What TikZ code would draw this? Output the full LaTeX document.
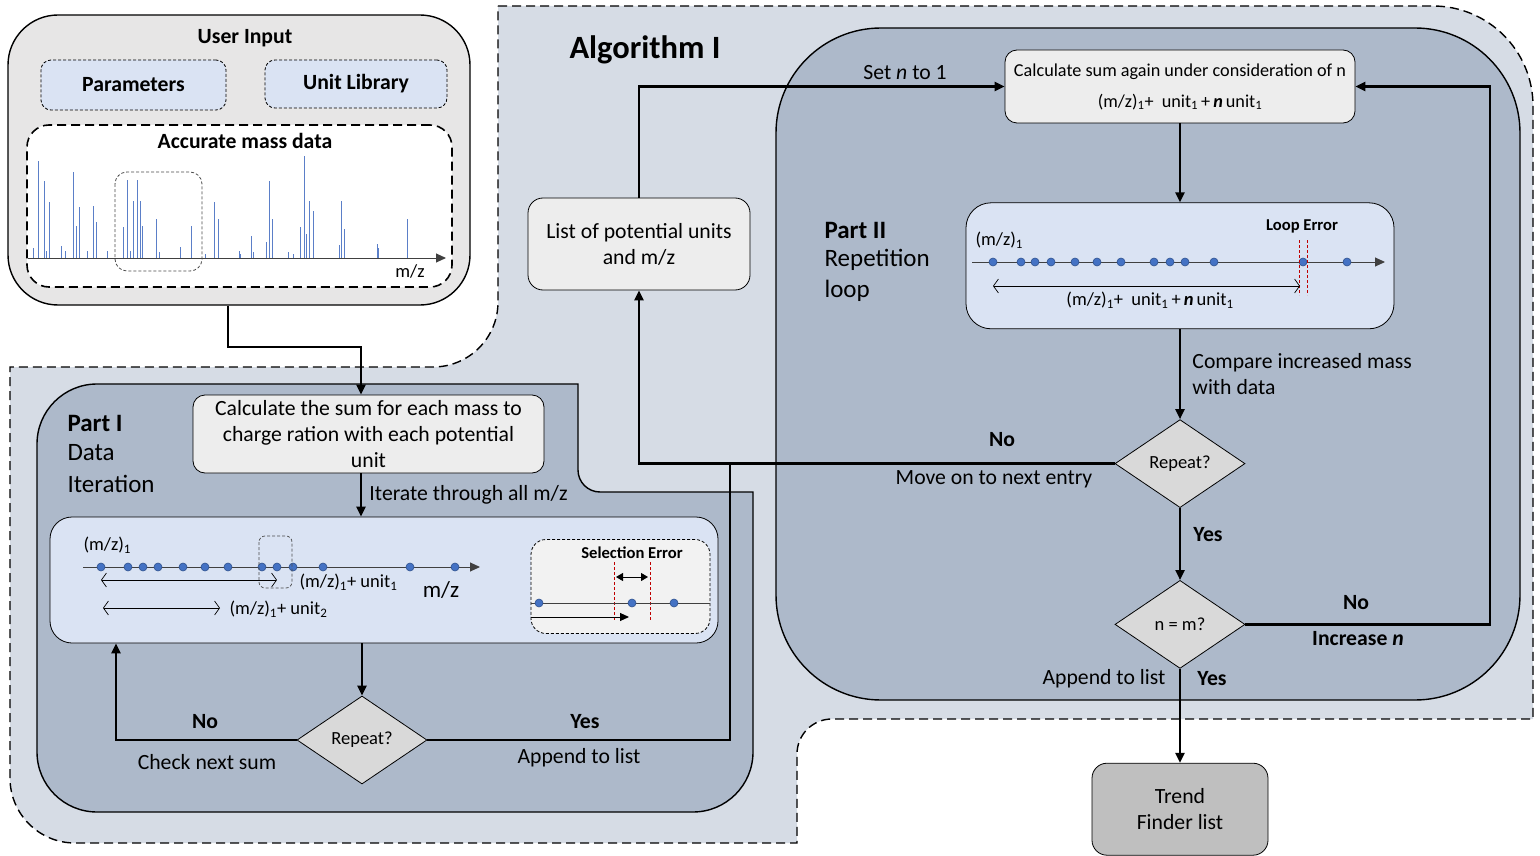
\documentclass[tikz,border=0pt]{standalone}
\usepackage{fontspec}
\setmainfont{Carlito}
\usepackage{xcolor}
\usetikzlibrary{arrows.meta,positioning,shapes.geometric}

\definecolor{regionfill}{HTML}{D6DCE5}
\definecolor{partfill}{HTML}{ADB9CA}
\definecolor{datafill}{HTML}{DAE3F3}
\definecolor{calcfill}{HTML}{EDEDED}
\definecolor{inputfill}{HTML}{E7E6E6}
\definecolor{decfill}{HTML}{D9D9D9}
\definecolor{trendfill}{HTML}{BFBFBF}
\definecolor{selfill}{HTML}{F2F2F2}
\definecolor{dotfill}{HTML}{4472C4}
\definecolor{dotline}{HTML}{2F528F}
\definecolor{peakline}{HTML}{5B7FC8}
\definecolor{errred}{HTML}{C00000}

\begin{document}
\begin{tikzpicture}[
    x=1pt, y=-1pt,
    font=\fontsize{21.7}{26}\selectfont,
    region/.style={fill=regionfill, draw, dashed, dash pattern=on 9pt off 5pt, line width=1.4pt},
    part/.style={fill=partfill, draw, line width=1.4pt},
    calcbox/.style={draw, fill=calcfill, rounded corners=12pt, align=center, inner sep=0pt, line width=0.8pt},
    databox/.style={draw, fill=datafill, rounded corners=22pt, inner sep=0pt, line width=0.8pt},
    subbox/.style={draw, dashed, dash pattern=on 3pt off 2pt, fill=datafill, rounded corners=10pt, inner sep=0pt, line width=0.8pt},
    decision/.style={diamond, draw, fill=decfill, minimum width=130pt, minimum height=88pt, inner sep=0pt, line width=0.8pt, font=\fontsize{18.5}{22}\selectfont},
    arrow/.style={-{Triangle[length=10pt,width=9pt]}, line width=2.3pt},
    link/.style={line width=2.3pt},
    span/.style={{Straight Barb[length=5pt,width=14pt]}-{Straight Barb[length=5pt,width=14pt]}, line width=0.7pt},
    mzaxis/.style={-{Triangle[length=10pt,width=9pt]}, line width=1pt, black!75},
    mzdot/.style={fill=dotfill, draw=dotline, line width=0.6pt},
    errline/.style={draw=errred, dashed, dash pattern=on 3pt off 2pt, line width=0.8pt},
    heading/.style={font=\bfseries\fontsize{21.7}{26}\selectfont},
    partlabel/.style={anchor=west, font=\fontsize{25}{28}\selectfont},
    note/.style={font=\fontsize{18.5}{22}\selectfont},
    errtitle/.style={font=\bfseries\fontsize{16.6}{20}\selectfont}
]
\useasboundingbox (0,0) rectangle (1540,856);

% Algorithm I region
\draw[region] (498,6) -- (1433,6) arc[start angle=90, end angle=0, radius=100pt]
    -- (1533,719) -- (832,719) arc[start angle=90, end angle=180, radius=35pt]
    -- (797,843) -- (75,843) arc[start angle=270, end angle=180, radius=65pt]
    -- (10,367) -- (433,367) arc[start angle=270, end angle=360, radius=65pt]
    -- cycle;
\node[anchor=west, font=\bfseries\fontsize{32.5}{36}\selectfont] (algo) at (566,50) {Algorithm I};

% Part I and Part II backgrounds
\draw[part] (97,384) -- (578,384) -- (578,470) arc[start angle=180, end angle=270, radius=22pt]
    -- (753,492) -- (753,752) arc[start angle=0, end angle=-90, radius=60pt]
    -- (97,812) arc[start angle=270, end angle=180, radius=60pt]
    -- (37,444) arc[start angle=180, end angle=90, radius=60pt] -- cycle;
\draw[part, rounded corners=105pt] (776,28) rectangle (1520,700);

% User input
\node[draw, fill=inputfill, rounded corners=50pt, line width=1.4pt, minimum width=462pt, minimum height=290pt] (userin) at (239,160) {};
\node[heading] (uititle) at (245,38) {User Input};
\node[subbox, heading, minimum width=185pt, minimum height=50pt] (params) at (133.5,85) {Parameters};
\node[subbox, heading, minimum width=182pt, minimum height=48pt] (unitlib) at (356,84) {Unit Library};
\node[draw, fill=white, rounded corners=22pt, dashed, dash pattern=on 9pt off 5pt, line width=1.6pt, minimum width=425pt, minimum height=162pt] (massdata) at (239.5,206) {};
\node[heading] (masstitle) at (245,141) {Accurate mass data};

% Spectrum
\foreach \x/\h in {38/161, 44/181, 49/202, 33/248, 46/251, 61/246, 65/251, 73/172, 76/226, 79/207,
    87/251, 93/206, 96/222, 107/251, 123/227, 127/180, 130/251, 133/201, 137/180, 140/201,
    142/226, 156/219, 159/252, 180/247, 191/226, 205/254, 214/202, 218/219, 239/251, 240/254,
    251/236, 253/252, 266/242, 269/181, 272/219, 288/252, 293/254, 300/227, 304/156, 306/234,
    309/201, 313/211, 339/245, 341/201, 344/229, 377/244, 378/248, 407/219}
    \draw[peakline, line width=1pt] (\x,258) -- (\x,\h);
\draw[mzaxis] (28,258) -- (446,258);
\node[note] (mzspec) at (410,271) {m/z};
\draw[black!70, dashed, dash pattern=on 3pt off 2pt, rounded corners=12pt, line width=0.8pt] (115,172) rectangle (202,271);

% Part I: data iteration
\node[partlabel, font=\bfseries\fontsize{25}{28}\selectfont] (parti) at (64,423) {Part I};
\node[partlabel] (partidata) at (64,453) {Data};
\node[partlabel] (partiiter) at (64,484) {Iteration};
\node[calcbox, minimum width=351pt, minimum height=78pt] (calci) at (368.5,434) {Calculate the sum for each mass to\\charge ration with each potential\\unit};
\node[databox, minimum width=668pt, minimum height=126pt] (datai) at (384,580) {};
\node[decision] (repi) at (362,740) {Repeat?};

\node[note, anchor=west] (mzi) at (80,545) {(m/z)\textsubscript{1}};
\draw[mzaxis] (83,567) -- (480,567);
\foreach \x in {101,128,143,158,183,205,228,262,277,293,323,410,455}
    \filldraw[mzdot] (\x,567) circle[radius=4pt];
\draw[black!70, dashed, dash pattern=on 3pt off 2pt, rounded corners=6pt, line width=0.7pt] (259,536) rectangle (292,588);
\draw[span] (101,580) -- (277,580);
\node[note, anchor=west] (unitone) at (296,582) {(m/z)\textsubscript{1}+ unit\textsubscript{1}};
\node[font=\fontsize{23}{26}\selectfont] (mzlabel) at (441,590) {m/z};
\draw[span] (103,608) -- (220,608);
\node[note, anchor=west] (unittwo) at (226,609) {(m/z)\textsubscript{1}+ unit\textsubscript{2}};

% Selection error inset
\node[subbox, fill=selfill, rounded corners=15pt, minimum width=179pt, minimum height=94pt] (selerr) at (620.5,586.5) {};
\node[errtitle] (seltitle) at (632,553) {Selection Error};
\draw[errline] (614,562) -- (614,620);
\draw[errline] (650,562) -- (650,620);
\draw[{Triangle[length=7pt,width=8pt]}-{Triangle[length=7pt,width=8pt]}, line width=1pt] (616,577) -- (648,577);
\draw[black!75, line width=1pt] (531,603) -- (710,603);
\foreach \x in {539,632,674}
    \filldraw[mzdot] (\x,603) circle[radius=4pt];
\draw[-{Triangle[length=9pt,width=8pt]}, line width=1pt] (531,617) -- (629,617);

% List of units
\node[calcbox, rounded corners=15pt, minimum width=222pt, minimum height=92pt] (list) at (639,244) {List of potential units\\and m/z};

% Part II: repetition loop
\node[partlabel, font=\bfseries\fontsize{25}{28}\selectfont] (partii) at (821,230) {Part II};
\node[partlabel] (partiirep) at (821,260) {Repetition};
\node[partlabel] (partiiloop) at (821,291) {loop};
\node[calcbox, minimum width=350pt, minimum height=73pt, font=\fontsize{18.2}{31}\selectfont] (calcii) at (1180,86.5)
    {Calculate sum again under consideration of n\\(m/z)\textsubscript{1}+\ \ unit\textsubscript{1}\,+\,\textbf{\textit{n}}\,unit\textsubscript{1}};
\node[databox, rounded corners=25pt, minimum width=428pt, minimum height=126pt, below=79pt of calcii] (dataii) {};
\node[decision, below=90pt of dataii] (repii) {Repeat?};
\node[decision, below=72pt of repii] (nm) {n = m?};
\node[calcbox, fill=trendfill, rounded corners=15pt, minimum width=176pt, minimum height=92pt, below=94pt of nm] (trend) {Trend\\Finder list};

\node[note, anchor=west] (mzii) at (972,240) {(m/z)\textsubscript{1}};
\node[errtitle] (looptitle) at (1302,226) {Loop Error};
\draw[mzaxis] (972,262) -- (1385,262);
\foreach \x in {993,1021,1035,1051,1075,1097,1121,1154,1170,1185,1214,1303,1347}
    \filldraw[mzdot] (\x,262) circle[radius=4pt];
\draw[errline] (1299,240) -- (1299,295);
\draw[errline] (1307,240) -- (1307,295);
\draw[span] (993,286) -- (1300,286);
\node[note] (loopsum) at (1150,300) {(m/z)\textsubscript{1}+\ \ unit\textsubscript{1}\,+\,\textbf{\textit{n}}\,unit\textsubscript{1}};

% Connectors
\coordinate (ui) at (228,0);
\coordinate (spine) at (361,0);
\coordinate (noi) at (116,0);
\coordinate (yesi) at (730,462);
\coordinate (back) at (1490,0);

\draw[arrow] (userin.south -| ui) -- ++(0,41) -| (calci.north -| spine);
\draw[arrow] (calci.south -| spine) -- node[right=4pt] (iterlbl) {Iterate through all m/z} (datai.north -| spine);
\draw[arrow] (datai.south -| repi) -- (repi.north);
\draw[arrow] (repi.west) -| (datai.south -| noi);
\draw[link] (repi.east) -| (yesi);
\draw[arrow] (repii.west) -| (list.south);
\draw[arrow] (list.north) |- (calcii.west);
\draw[arrow] (calcii.south) -- (dataii.north);
\draw[arrow] (dataii.south) -- node[right=8pt, align=left] (cmplbl) {Compare increased mass\\with data} (repii.north);
\draw[arrow] (repii.south) -- (nm.north);
\draw[arrow] (nm.east) -- (nm.east -| back) -- (calcii.east -| back) -- (calcii.east);
\draw[arrow] (nm.south) -- (trend.north);

% Connector labels
\node[heading] (noione) at (205,722) {No};
\node (checklbl) at (207,762) {Check next sum};
\node[heading] (yesione) at (585,722) {Yes};
\node (appendi) at (579,758) {Append to list};
\node (setn) at (905,73) {Set \textit{n} to 1};
\node[heading] (noiitop) at (1002,440) {No};
\node (movelbl) at (994,479) {Move on to next entry};
\node[heading] (yesiitop) at (1208,535) {Yes};
\node[heading] (noiinm) at (1356,603) {No};
\node[heading] (incn) at (1358,639) {Increase \textit{n}};
\node (appendii) at (1104,679) {Append to list};
\node[heading] (yesiinm) at (1212,679) {Yes};

\end{tikzpicture}
\end{document}
